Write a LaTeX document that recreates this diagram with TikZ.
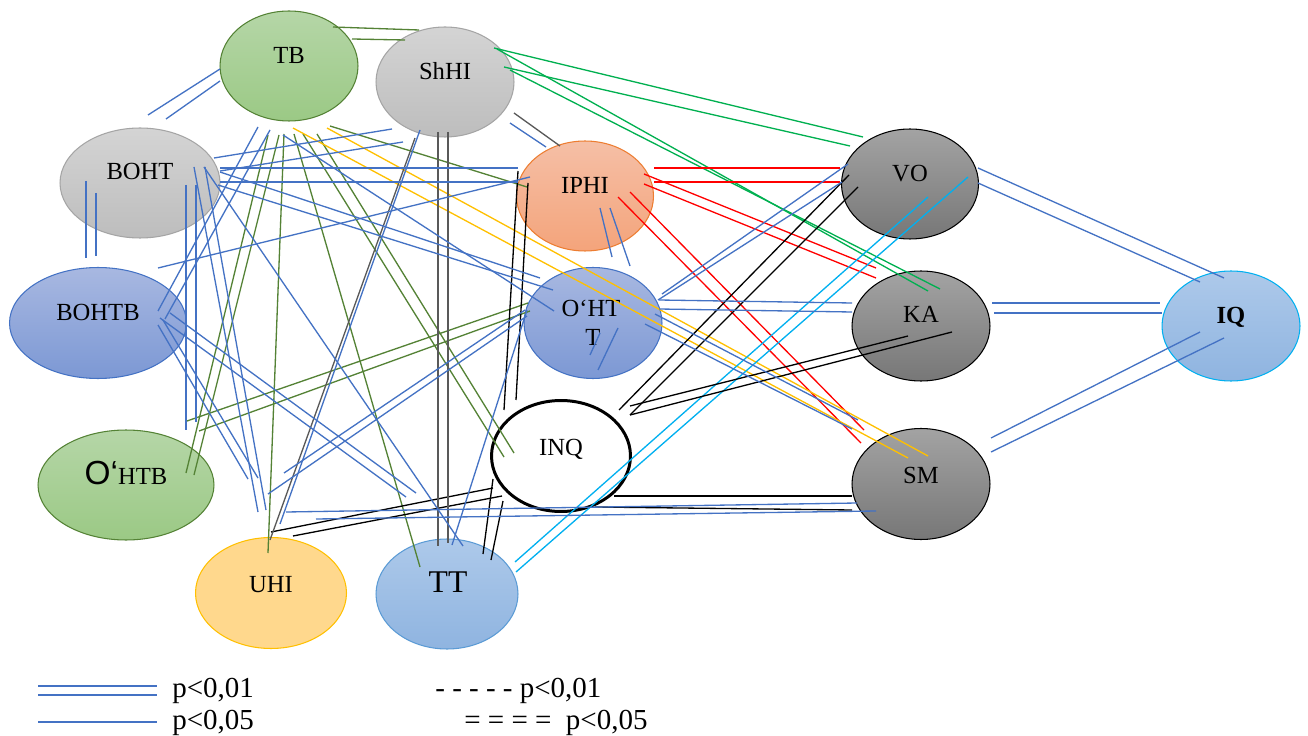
\documentclass[tikz,border=0pt]{standalone}
\usepackage{fontspec}
\setmainfont{Liberation Serif}
\newfontfamily\arialf{Liberation Sans}
\usetikzlibrary{shapes.geometric}
\definecolor{cblue}{HTML}{4472C4}
\definecolor{cgd}{HTML}{548235}
\definecolor{cgb}{HTML}{00B050}
\definecolor{cred}{HTML}{FF0000}
\definecolor{cyel}{HTML}{FFC000}
\definecolor{ccy}{HTML}{00B0F0}
\definecolor{cgray}{HTML}{595959}
\definecolor{greenT}{HTML}{B5D6A7}
\definecolor{greenB}{HTML}{9BC985}
\definecolor{grayT}{HTML}{D4D4D4}
\definecolor{grayB}{HTML}{BDBDBD}
\definecolor{grayD}{HTML}{A5A5A5}
\definecolor{orT}{HTML}{F5BFA6}
\definecolor{orB}{HTML}{F4A47B}
\definecolor{orD}{HTML}{ED7D31}
\definecolor{blT}{HTML}{A8B8E1}
\definecolor{blB}{HTML}{7C98D4}
\definecolor{yeF}{HTML}{FFD88D}
\definecolor{ttT}{HTML}{ADC9EA}
\definecolor{ttB}{HTML}{8FB4E0}
\definecolor{ttD}{HTML}{5B9BD5}
\definecolor{dkT}{HTML}{A3A3A3}
\definecolor{dkB}{HTML}{777777}
\begin{document}
\begin{tikzpicture}[x=0.02cm,y=-0.02cm,
  el/.style={ellipse, line width=0.6pt, inner sep=0pt},
  gfill/.style={el, top color=greenT, bottom color=greenB, draw=cgd},
  grfill/.style={el, top color=grayT, bottom color=grayB, draw=grayD},
  orfill/.style={el, top color=orT, bottom color=orB, draw=orD},
  blfill/.style={el, top color=blT, bottom color=blB, draw=cblue},
  yefill/.style={el, fill=yeF, draw=cyel},
  ttfill/.style={el, top color=ttT, bottom color=ttB, draw=ttD},
  iqfill/.style={el, top color=ttT, bottom color=ttB, draw=ccy},
  dkfill/.style={el, top color=dkT, bottom color=dkB, draw=black},
  lab/.style={anchor=base, inner sep=0pt, font=\fontsize{14}{16}\selectfont},
  leg/.style={anchor=base west, inner sep=0pt, font=\fontsize{16.5}{19}\selectfont},
  ln/.style={line width=0.75pt},
  bl/.style={ln, draw=cblue},
  gd/.style={ln, draw=cgd},
  gb/.style={ln, draw=cgb},
  rd/.style={ln, draw=cred},
  ye/.style={ln, draw=cyel},
  cy/.style={ln, draw=ccy},
  bk/.style={ln, draw=black},
  gy/.style={ln, draw=cgray}
]
\useasboundingbox (0,0) rectangle (1308,736);
\fill[white] (0,0) rectangle (1308,736);

% nodes
\node[gfill, minimum width=2.76cm, minimum height=2.2cm] (TB) at (289,66) {};
\node[lab] (TBt) at (289,64) {TB};
\node[grfill, minimum width=2.76cm, minimum height=2.2cm] (ShHI) at (445,82) {};
\node[lab] (ShHIt) at (445,80) {ShHI};
\node[grfill, minimum width=3.2cm, minimum height=2.2cm] (BOHT) at (140,183) {};
\node[lab] (BOHTt) at (140,180) {BOHT};
\node[orfill, minimum width=2.74cm, minimum height=2.2cm] (IPHI) at (585,196) {};
\node[lab] (IPHIt) at (585,194) {IPHI};
\node[blfill, minimum width=3.54cm, minimum height=2.22cm] (BOHTB) at (98,323) {};
\node[lab] (BOHTBt) at (98,321) {BOHTB};
\node[gfill, minimum width=3.52cm, minimum height=2.2cm] (OHTB) at (126,485) {};
\node[lab] (OHTBt) at (126,484) {{\arialf\fontsize{19}{21}\selectfont O‘}HTB};
\node[blfill, minimum width=2.76cm, minimum height=2.22cm] (OHTT) at (593,323) {};
\node[lab] (OHTTa) at (591,317) {O‘HT};
\node[lab] (OHTTb) at (593,346) {T};
\node[el, draw=black, line width=1.7pt, fill=white, minimum width=2.78cm, minimum height=2.22cm] (INQ) at (561,456) {};
\node[lab] (INQt) at (561,455) {INQ};
\node[yefill, minimum width=3.02cm, minimum height=2.22cm] (UHI) at (271,593) {};
\node[lab] (UHIt) at (271,592) {UHI};
\node[ttfill, minimum width=2.84cm, minimum height=2.2cm] (TT) at (447,594) {};
\node[lab, font=\fontsize{18}{20}\selectfont] (TTt) at (448,592) {TT};
\node[dkfill, minimum width=2.74cm, minimum height=2.2cm] (VO) at (910,184) {};
\node[lab] (VOt) at (910,182) {VO};
\node[dkfill, minimum width=2.76cm, minimum height=2.2cm] (KA) at (921,326) {};
\node[lab] (KAt) at (921,323) {KA};
\node[iqfill, minimum width=2.76cm, minimum height=2.2cm] (IQ) at (1231,326) {};
\node[lab] (IQt) at (1231,324) {\textbf{IQ}};
\node[dkfill, minimum width=2.76cm, minimum height=2.22cm] (SM) at (921,484) {};
\node[lab] (SMt) at (921,483) {SM};

% dark green
\draw[gd] (333,27) -- (419,30);
\draw[gd] (352,39) -- (405,40);
\draw[gd] (330,126) -- (527,187);
\draw[gd] (268,135) -- (186,473);
\draw[gd] (279,135) -- (194,475);
\draw[gd] (284,134) -- (268,553);
\draw[gd] (294,134) -- (420,567);
\draw[gd] (303,134) -- (504,457);
\draw[gd] (317,134) -- (514,453);
\draw[gd] (187,421) -- (528,303);
\draw[gd] (199,431) -- (530,311);
% bright green
\draw[gb] (494,48) -- (863,137);
\draw[gb] (504,67) -- (850,146);
\draw[gb] (497,49) -- (928,291);
\draw[gb] (510,70) -- (940,289);
% red
\draw[rd] (654,168) -- (840,168);
\draw[rd] (654,182) -- (840,182);
\draw[rd] (644,174) -- (876,268);
\draw[rd] (644,184) -- (876,278);
\draw[rd] (618,197) -- (861,443);
\draw[rd] (630,192) -- (864,430);
% yellow
\draw[ye] (293,128) -- (908,458);
\draw[ye] (327,128) -- (928,456);
% cyan
\draw[cy] (515,562) -- (928,197);
\draw[cy] (516,572) -- (968,177);
% black
\draw[bk] (518,171) -- (504,410);
\draw[bk] (528,183) -- (516,400);
\draw[bk] (849,175) -- (619,410);
\draw[bk] (858,187) -- (630,415);
\draw[bk] (630,406) -- (908,336);
\draw[bk] (630,415) -- (952,332);
\draw[bk] (614,496) -- (852,496);
\draw[bk] (595,507) -- (852,510);
\draw[bk] (271,532) -- (493,488);
\draw[bk] (293,536) -- (502,496);
\draw[bk] (493,479) -- (483,554);
\draw[bk] (503,501) -- (491,560);
% dark gray
\draw[gy] (514,113) -- (560,146);
\draw[gy] (438,132) -- (438,546);
\draw[gy] (448,132) -- (448,543);
\draw[gy] (415,138) -- (270,540);
% blue
\draw[bl] (148,115) -- (220,69);
\draw[bl] (166,119) -- (220,81);
\draw[bl] (86,181) -- (86,258);
\draw[bl] (96,193) -- (96,256);
\draw[bl] (510,123) -- (546,147);
\draw[bl] (600,208) -- (612,257);
\draw[bl] (610,208) -- (630,266);
\draw[bl] (662,294) -- (848,164);
\draw[bl] (658,300) -- (842,182);
\draw[bl] (659,300) -- (852,303);
\draw[bl] (659,309) -- (852,312);
\draw[bl] (655,314) -- (858,420);
\draw[bl] (645,324) -- (852,429);
\draw[bl] (214,158) -- (392,129);
\draw[bl] (220,171) -- (403,142);
\draw[bl] (220,168) -- (518,168);
\draw[bl] (220,182) -- (518,182);
\draw[bl] (158,268) -- (530,177);
\draw[bl] (220,172) -- (540,278);
\draw[bl] (218,185) -- (553,290);
\draw[bl] (283,135) -- (554,311);
\draw[bl] (258,127) -- (158,311);
\draw[bl] (270,130) -- (165,319);
\draw[bl] (204,167) -- (463,546);
\draw[bl] (194,167) -- (258,512);
\draw[bl] (205,167) -- (266,510);
\draw[bl] (186,185) -- (186,430);
\draw[bl] (196,185) -- (196,422);
\draw[bl] (158,325) -- (248,479);
\draw[bl] (163,320) -- (258,478);
\draw[bl] (160,318) -- (406,497);
\draw[bl] (170,313) -- (416,493);
\draw[bl] (284,473) -- (525,310);
\draw[bl] (268,494) -- (527,316);
\draw[bl] (527,310) -- (452,545);
\draw[bl] (420,130) -- (280,524);
\draw[bl] (590,355) -- (600,333);
\draw[bl] (598,370) -- (618,328);
\draw[bl] (286,512) -- (857,503);
\draw[bl] (316,519) -- (876,511);
\draw[bl] (978,168) -- (1224,278);
\draw[bl] (978,183) -- (1200,282);
\draw[bl] (992,303) -- (1160,303);
\draw[bl] (994,313) -- (1162,313);
\draw[bl] (1200,332) -- (991,438);
\draw[bl] (1224,338) -- (991,452);

% legend
\coordinate (l1a) at (38,686); \coordinate (l1b) at (157,686);
\coordinate (l2a) at (38,695); \coordinate (l2b) at (157,695);
\coordinate (l3a) at (38,722); \coordinate (l3b) at (157,722);
\draw[bl] (l1a) -- (l1b);
\draw[bl] (l2a) -- (l2b);
\draw[bl] (l3a) -- (l3b);
\node[leg] (t1) at (172,697) {p<0,01};
\node[leg] (t2) at (172,729) {p<0,05};
\node[leg] (t3) at (435,697) {- - - - - p<0,01};
\node[leg] (t4) at (464,729) {= = = =\ \ p<0,05};
\end{tikzpicture}
\end{document}
